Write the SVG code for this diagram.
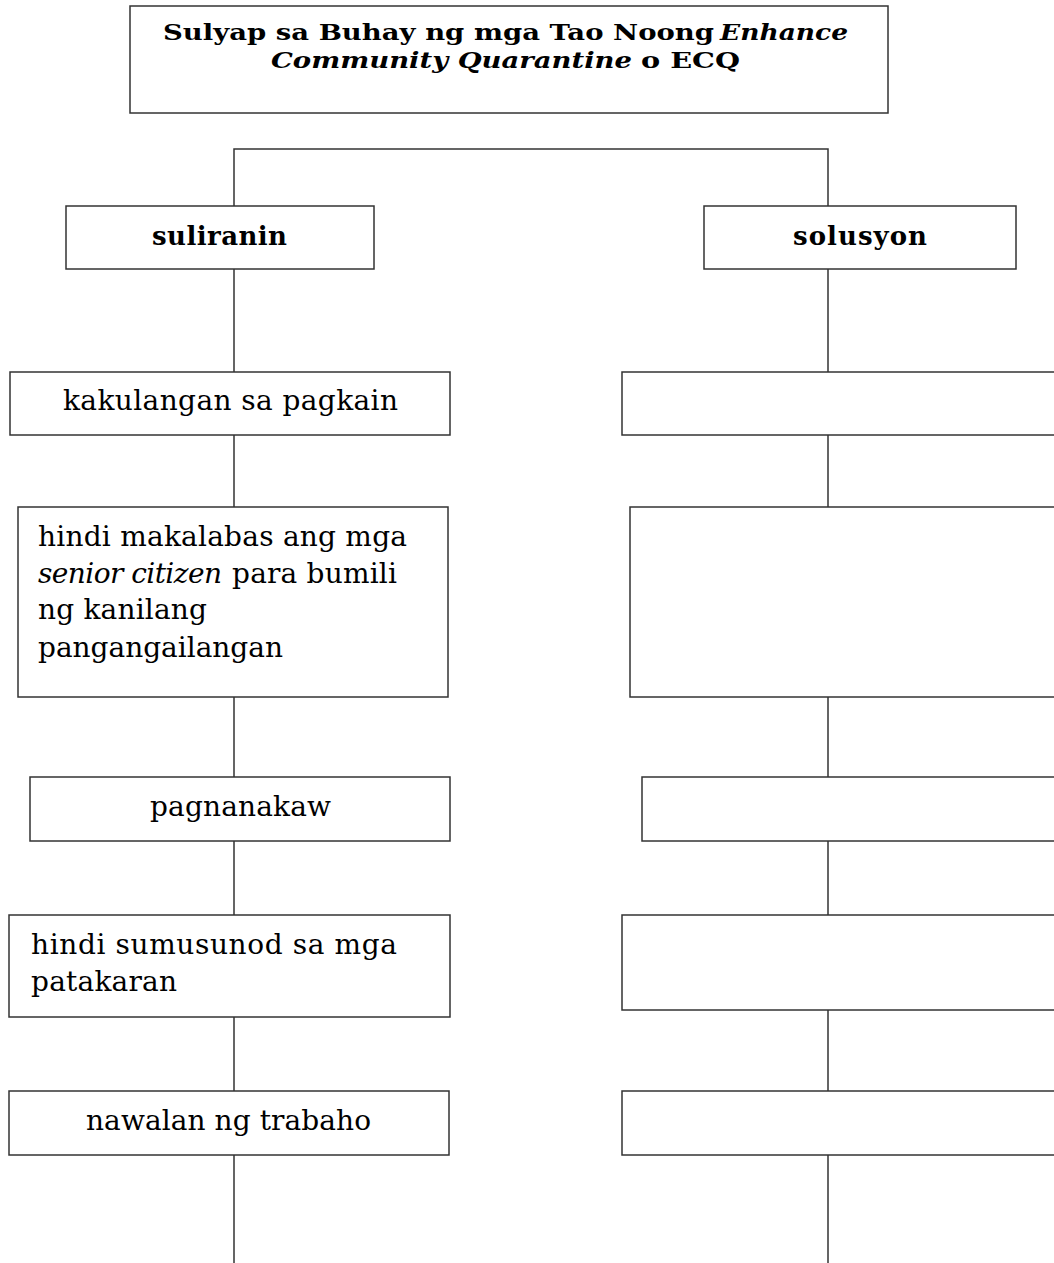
<svg xmlns="http://www.w3.org/2000/svg" width="1054" height="1263" viewBox="0 0 1054 1263">
<style>
.box{fill:#fff;stroke:#333;stroke-width:1.5}
.ln{fill:none;stroke:#333;stroke-width:1.5}
.t{font-family:"DejaVu Serif","Liberation Serif",serif;font-size:28px;fill:#000}
.b{font-family:"DejaVu Serif","Liberation Serif",serif;font-size:26px;font-weight:bold;fill:#000}
.h{font-size:23px}
.i{font-style:italic}
</style>
<rect width="1054" height="1263" fill="#fff"/>
<g id="connectors">
<path class="ln" d="M234,206 V149 H828 V206"/>
<path class="ln" d="M234,269 V372 M234,435 V507 M234,697 V777 M234,841 V915 M234,1017 V1091 M234,1155 V1263"/>
<path class="ln" d="M828,269 V372 M828,435 V507 M828,697 V777 M828,841 V915 M828,1010 V1091 M828,1155 V1263"/>
</g>
<g id="title">
<rect class="box" x="130" y="6" width="758" height="107"/>
<text class="b h" x="163" y="40" textLength="551" lengthAdjust="spacingAndGlyphs">Sulyap sa Buhay ng mga Tao Noong</text>
<text class="b h i" x="720" y="40" textLength="128" lengthAdjust="spacingAndGlyphs">Enhance</text>
<text class="b h i" x="271" y="68" textLength="361" lengthAdjust="spacingAndGlyphs">Community Quarantine</text>
<text class="b h" x="641" y="68" textLength="99" lengthAdjust="spacingAndGlyphs">o ECQ</text>
</g>
<g id="suliranin">
<rect class="box" x="66" y="206" width="308" height="63"/>
<text class="b" x="152" y="245" textLength="135">suliranin</text>
</g>
<g id="solusyon">
<rect class="box" x="704" y="206" width="312" height="63"/>
<text class="b" x="793" y="245" textLength="134">solusyon</text>
</g>
<g id="s1">
<rect class="box" x="10" y="372" width="440" height="63"/>
<text class="t" x="63" y="410" textLength="335">kakulangan sa pagkain</text>
</g>
<g id="r1">
<rect class="box" x="622" y="372" width="440" height="63"/>
</g>
<g id="s2">
<rect class="box" x="18" y="507" width="430" height="190"/>
<text class="t" x="38" y="546" textLength="369">hindi makalabas ang mga</text>
<text class="t i" x="38" y="583" textLength="184">senior citizen</text>
<text class="t" x="232" y="583" textLength="165">para bumili</text>
<text class="t" x="38" y="619" textLength="169">ng kanilang</text>
<text class="t" x="38" y="657" textLength="245">pangangailangan</text>
</g>
<g id="r2">
<rect class="box" x="630" y="507" width="440" height="190"/>
</g>
<g id="s3">
<rect class="box" x="30" y="777" width="420" height="64"/>
<text class="t" x="150" y="816" textLength="181">pagnanakaw</text>
</g>
<g id="r3">
<rect class="box" x="642" y="777" width="440" height="64"/>
</g>
<g id="s4">
<rect class="box" x="9" y="915" width="441" height="102"/>
<text class="t" x="31" y="954" textLength="366">hindi sumusunod sa mga</text>
<text class="t" x="31" y="991" textLength="146">patakaran</text>
</g>
<g id="r4">
<rect class="box" x="622" y="915" width="440" height="95"/>
</g>
<g id="s5">
<rect class="box" x="9" y="1091" width="440" height="64"/>
<text class="t" x="86" y="1130" textLength="285">nawalan ng trabaho</text>
</g>
<g id="r5">
<rect class="box" x="622" y="1091" width="440" height="64"/>
</g>
</svg>
